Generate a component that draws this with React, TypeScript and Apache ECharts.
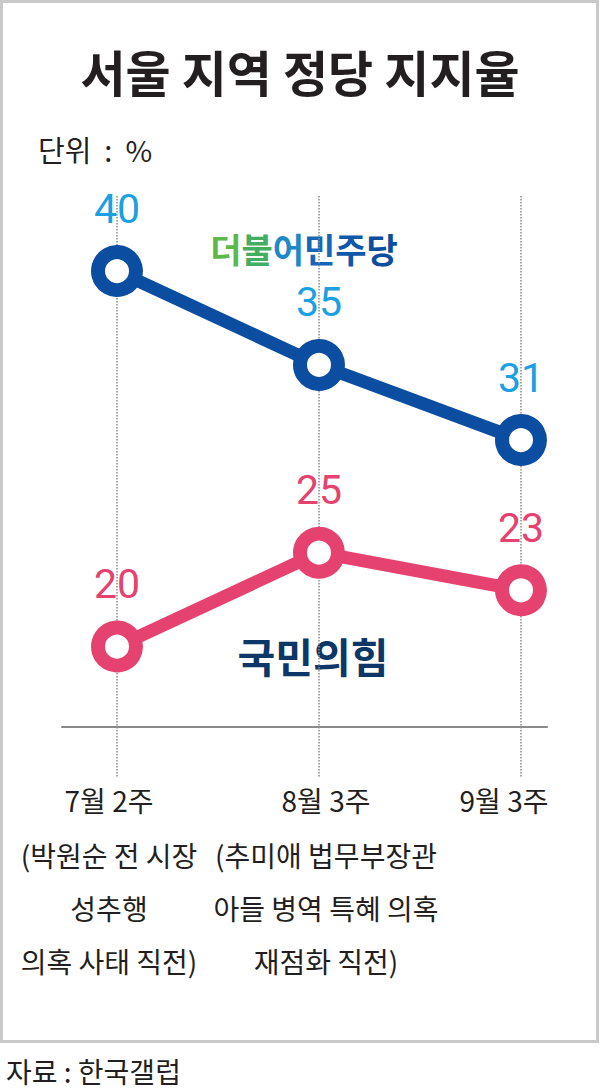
import React, { useEffect, useRef } from "react";
import * as echarts from "echarts";

const categories = ["7월 2주", "8월 3주", "9월 3주"];
const notes = [
  ["(박원순 전 시장", "성추행", "의혹 사태 직전)"],
  ["(추미애 법무부장관", "아들 병역 특혜 의혹", "재점화 직전)"],
  [],
];
const democratic = [40, 35, 31];
const ppp = [20, 25, 23];

const titleText = "서울 지역 정당 지지율";
const unitText = "단위  :  %";
const sourceText = "자료 : 한국갤럽";
const demName = ["더", "불", "어", "민", "주", "당"];
const demColors = ["#5db84a", "#43ad62", "#1f88c6", "#1566b6", "#0f57a8", "#0c4d9e"];
const pppName = "국민의힘";

const BLUE = "#0b4da0";
const BLUE_LABEL = "#1aa0e3";
const PINK = "#e5426f";
const KR = "'Noto Sans CJK KR', 'Noto Sans', sans-serif";
const NUM = "Roboto, 'Noto Sans', sans-serif";

export default function App() {
  const ref = useRef<HTMLDivElement>(null);
  useEffect(() => {
    if (!ref.current) return;
    const chart = echarts.init(ref.current, null, { renderer: "svg" });

    const shifts = [16, -14, 34];
    const rich: any = {};
    categories.forEach((_, i) => {
      const pad = shifts[i] >= 0 ? [0, shifts[i], 0, 0] : [0, 0, 0, -shifts[i]];
      rich["h" + i] = { fontSize: 28, fontFamily: KR, color: "#231f20", lineHeight: 56, padding: pad };
      rich["n" + i] = { fontSize: 28, fontFamily: KR, color: "#231f20", lineHeight: 53, padding: pad };
    });

    const demRich: any = {};
    demName.forEach((c, i) => {
      demRich["c" + i] = { fill: demColors[i], fontSize: 34, fontWeight: "bold", fontFamily: KR };
    });

    chart.setOption({
      animation: false,
      backgroundColor: "#ffffff",
      grid: [
        { left: 117, right: 79, top: 196, bottom: 312 },
        { left: 62, right: 53, top: 726, height: 1 },
      ],
      xAxis: [
        {
          type: "category",
          gridIndex: 0,
          data: categories,
          boundaryGap: false,
          axisLine: { show: false },
          axisTick: { show: false },
          splitLine: { show: true, lineStyle: { type: "dotted", color: "#8c8c8c", width: 1.5 } },
          axisLabel: {
            interval: 0,
            margin: -6,
            formatter: (value: string, index: number) =>
              [`{h${index}|${value}}`, ...notes[index].map((n) => `{n${index}|${n}}`)].join("\n"),
            rich,
          },
        },
        {
          type: "value",
          gridIndex: 1,
          min: 0,
          max: 1,
          axisLine: { show: true, lineStyle: { color: "#8a8a8a", width: 2 } },
          axisTick: { show: false },
          axisLabel: { show: false },
          splitLine: { show: false },
        },
      ],
      yAxis: [
        { type: "value", gridIndex: 0, min: 13, max: 44, show: false, splitLine: { show: false } },
        { type: "value", gridIndex: 1, show: false },
      ],
      series: [
        {
          name: "더불어민주당",
          type: "line",
          data: democratic,
          symbol: "circle",
          symbolSize: 38,
          lineStyle: { color: BLUE, width: 13 },
          itemStyle: { color: "#ffffff", borderColor: BLUE, borderWidth: 14 },
          label: {
            show: true,
            position: "top",
            distance: 16,
            color: BLUE_LABEL,
            fontSize: 41,
            fontFamily: NUM,
          },
          z: 3,
        },
        {
          name: "국민의힘",
          type: "line",
          data: ppp,
          symbol: "circle",
          symbolSize: 38,
          lineStyle: { color: PINK, width: 13 },
          itemStyle: { color: "#ffffff", borderColor: PINK, borderWidth: 14 },
          label: {
            show: true,
            position: "top",
            distance: 16,
            color: PINK,
            fontSize: 41,
            fontFamily: NUM,
          },
          z: 3,
        },
      ],
      graphic: [
        {
          type: "rect",
          shape: { x: 1.5, y: 1.5, width: 596, height: 1040 },
          style: { fill: "none", stroke: "#c9c9c9", lineWidth: 3 },
          z: 0,
        },
        {
          type: "text",
          x: 300,
          y: 70,
          style: {
            text: titleText,
            fontSize: 49,
            fontWeight: "bold",
            fontFamily: KR,
            fill: "#231f20",
            align: "center",
            verticalAlign: "middle",
          },
        },
        {
          type: "text",
          x: 38,
          y: 149,
          style: {
            text: unitText,
            fontSize: 29,
            fontFamily: KR,
            fill: "#231f20",
            align: "left",
            verticalAlign: "middle",
          },
        },
        {
          type: "text",
          x: 304,
          y: 248,
          style: {
            text: demName.map((c, i) => `{c${i}|${c}}`).join(""),
            rich: demRich,
            align: "center",
            verticalAlign: "middle",
          },
        },
        {
          type: "text",
          x: 313,
          y: 655,
          style: {
            text: pppName,
            fontSize: 41,
            fontWeight: "bold",
            fontFamily: KR,
            fill: "#0c3766",
            align: "center",
            verticalAlign: "middle",
          },
        },
        {
          type: "text",
          x: 6,
          y: 1071,
          style: {
            text: sourceText,
            fontSize: 28,
            fontFamily: KR,
            fill: "#231f20",
            align: "left",
            verticalAlign: "middle",
          },
        },
      ],
    });
    return () => chart.dispose();
  }, []);
  return (
    <div
      ref={ref}
      style={{ position: "fixed", left: 0, top: 0, width: 600, height: 1090, background: "#fff" }}
    />
  );
}
